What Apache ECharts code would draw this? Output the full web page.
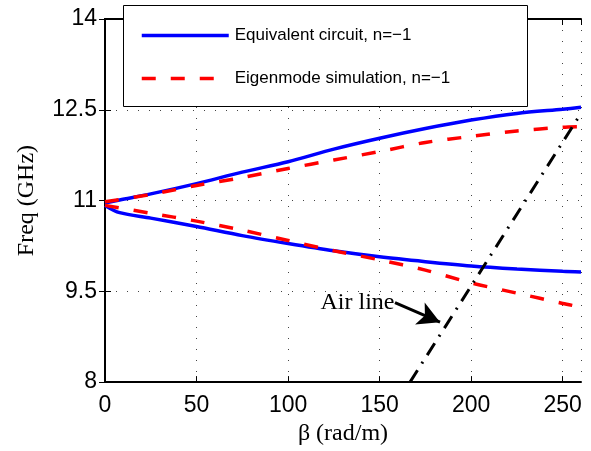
<!DOCTYPE html>
<html>
<head>
<meta charset="utf-8">
<script src="https://cdn.jsdelivr.net/npm/echarts@6/dist/echarts.min.js"></script>
<style>html,body{margin:0;padding:0;background:#fff;}#c{width:591px;height:451px;}</style>
</head>
<body>
<div id="c"></div>
<script>
// ---- data ----
const eqcBeta = [0, 8, 25, 50, 75, 100, 125, 150, 175, 200, 225, 250, 260];
const eqcUpper = [10.96, 11.01, 11.11, 11.28, 11.47, 11.64, 11.85, 12.03, 12.19, 12.33, 12.44, 12.51, 12.54];
const eqcLower = [10.92, 10.80, 10.71, 10.57, 10.42, 10.29, 10.17, 10.07, 9.99, 9.92, 9.87, 9.83, 9.82];

const eigBeta = [0, 25, 50, 75, 100, 125, 150, 175, 200, 225, 250, 260];
const eigUpper = [10.98, 11.10, 11.25, 11.38, 11.53, 11.67, 11.81, 11.96, 12.06, 12.15, 12.21, 12.22];
const eigLower = [10.92, 10.79, 10.66, 10.51, 10.34, 10.17, 10.02, 9.85, 9.64, 9.47, 9.30, 9.24];

const airBeta = [166.6, 260];
const airFreq = [8.0, 12.44];

const xTicks = [0, 50, 100, 150, 200, 250];
const yTicks = [8, 9.5, 11, 12.5, 14];

const nameEqc = 'Equivalent circuit, n=\u22121';
const nameEig = 'Eigenmode simulation, n=\u22121';
const xName = '\u03b2 (rad/m)';
const yName = 'Freq (GHz)';
const airText = 'Air line';
const arrowFrom = [158.4, 9.315];
const arrowTo = [183.0, 8.99];

function pairs(xs, ys) { return xs.map((x, i) => [x, ys[i]]); }

const sans = "'Liberation Sans', Arial, Helvetica, sans-serif";
const serif = "'Liberation Serif', 'Times New Roman', serif";

const chart = echarts.init(document.getElementById('c'), null, {renderer: 'canvas'});

const gridLine = {show: true, lineStyle: {color: '#444', width: 1, type: [1, 10]}};
const axLine = {show: true, lineStyle: {color: '#000', width: 2}};

const option = {
  animation: false,
  backgroundColor: '#fff',
  grid: {left: 105, right: 10, top: 19, bottom: 68, containLabel: false},
  xAxis: [{
    type: 'value', min: xTicks[0], max: 260, interval: xTicks[1] - xTicks[0],
    position: 'bottom',
    name: xName, nameLocation: 'middle', nameGap: 32,
    nameTextStyle: {fontFamily: serif, fontSize: 24, color: '#000'},
    axisLine: axLine,
    axisTick: {show: true, inside: true, length: 6, lineStyle: {color: '#000', width: 1}},
    axisLabel: {show: true, fontFamily: sans, fontSize: 23, color: '#000', margin: 12, showMaxLabel: false},
    splitLine: gridLine
  }, {
    type: 'value', min: xTicks[0], max: 260, interval: xTicks[1] - xTicks[0],
    position: 'top',
    axisLine: axLine,
    axisTick: {show: true, inside: true, length: 6, lineStyle: {color: '#000', width: 1}},
    axisLabel: {show: false},
    splitLine: {show: false}
  }],
  yAxis: [{
    type: 'value', min: yTicks[0], max: yTicks[yTicks.length - 1], interval: yTicks[1] - yTicks[0],
    position: 'left',
    name: yName, nameLocation: 'middle', nameGap: 66, nameRotate: 90,
    nameTextStyle: {fontFamily: serif, fontSize: 24, color: '#000'},
    axisLine: axLine,
    axisTick: {show: true, inside: true, length: 6, lineStyle: {color: '#000', width: 1}},
    axisLabel: {show: true, fontFamily: sans, fontSize: 23, color: '#000', margin: 8},
    splitLine: gridLine
  }, {
    type: 'value', min: yTicks[0], max: yTicks[yTicks.length - 1], interval: yTicks[1] - yTicks[0],
    position: 'right',
    axisLine: axLine,
    axisTick: {show: true, inside: true, length: 6, lineStyle: {color: '#000', width: 1}},
    axisLabel: {show: false},
    splitLine: {show: false}
  }],
  graphic: [{
    type: 'rect', z: 50,
    shape: {x: 123.5, y: 5.5, width: 404, height: 101},
    style: {fill: '#fff', stroke: '#000', lineWidth: 1}
  }],
  legend: {
    z: 60,
    orient: 'vertical', left: 140, top: 27, padding: 0,
    itemWidth: 87, itemHeight: 20, itemGap: 26,
    itemStyle: {opacity: 0},
    lineStyle: {width: 3.5},
    textStyle: {fontFamily: sans, fontSize: 17, color: '#000', padding: [0, 0, 0, 1]},
    data: [nameEqc, nameEig]
  },
  series: [
    {name: nameEqc, type: 'line', data: pairs(eqcBeta, eqcUpper), showSymbol: false, symbol: 'none', smooth: 0.3,
     lineStyle: {color: '#0000ff', width: 3.5}, itemStyle: {color: '#0000ff'}, z: 3},
    {name: nameEqc, type: 'line', data: pairs(eqcBeta, eqcLower), showSymbol: false, symbol: 'none', smooth: 0.3,
     lineStyle: {color: '#0000ff', width: 3.5}, itemStyle: {color: '#0000ff'}, z: 3},
    {name: nameEig, type: 'line', data: pairs(eigBeta, eigUpper), showSymbol: false, symbol: 'none', smooth: 0.3,
     lineStyle: {color: '#ff0000', width: 3.5, type: [14, 15]}, itemStyle: {color: '#ff0000'}, z: 4},
    {name: nameEig, type: 'line', data: pairs(eigBeta, eigLower), showSymbol: false, symbol: 'none', smooth: 0.3,
     lineStyle: {color: '#ff0000', width: 3.5, type: [14, 15]}, itemStyle: {color: '#ff0000'}, z: 4},
    {name: 'air', type: 'line', data: pairs(airBeta, airFreq), showSymbol: false, symbol: 'none',
     lineStyle: {color: '#000', width: 3, type: [14, 8, 2, 8]}, itemStyle: {color: '#000'}, z: 5,
     markLine: {
       silent: true, symbol: ['none', 'arrow'], symbolSize: [18, 22],
       label: {show: false},
       lineStyle: {color: '#000', width: 3, type: 'solid'},
       data: [[{coord: arrowFrom}, {coord: arrowTo}]]
     },
     markPoint: {
       silent: true, symbol: 'circle', symbolSize: 1, itemStyle: {color: 'rgba(0,0,0,0)'},
       label: {show: true, position: 'left', distance: 0, formatter: airText,
               fontFamily: serif, fontSize: 24, color: '#000'},
       data: [{coord: arrowFrom}]
     }
    }
  ]
};
chart.setOption(option);
</script>
</body>
</html>
